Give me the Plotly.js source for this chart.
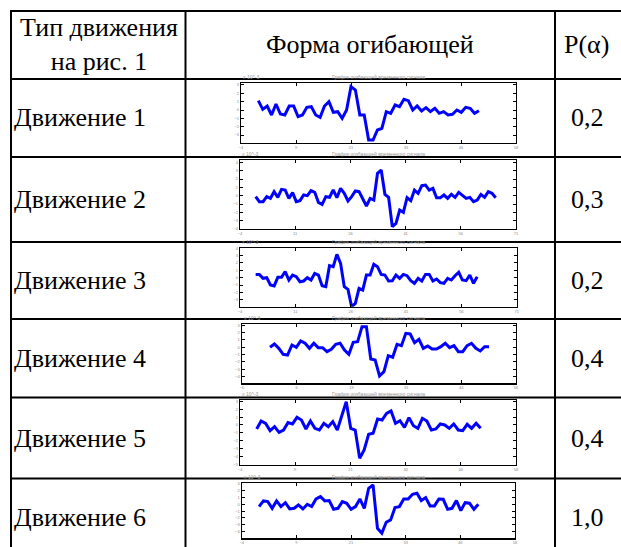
<!DOCTYPE html>
<html>
<head>
<meta charset="utf-8">
<script src="https://cdn.plot.ly/plotly-3.0.1.min.js"></script>
<style>
html,body{margin:0;padding:0;background:#fff;}
#chart{width:621px;height:547px;}
</style>
</head>
<body>
<div id="chart"></div>
<script>
// ---- data ----
const headerType = 'Тип движения<br>на рис. 1';
const headerShape = 'Форма огибающей';
const headerProb = 'P(α)';
const rowLabels = ['Движение 1', 'Движение 2', 'Движение 3', 'Движение 4', 'Движение 5', 'Движение 6'];
const probabilities = ['0,2', '0,3', '0,2', '0,4', '0,4', '1,0'];
const miniTitle = 'График огибающей временного сигнала';
const miniExp = 'x 10^-3';

const env1 = [1.12, 0.08, 0.48, -0.6, 0.72, -0.48, -0.6, 0.48, 0.48, -0.8, -0.6, 0.32, 0.4, -0.6, -0.88, 0.48, 1.0, -0.28, -0.2, -1.0, 0, 2.8, 2.4, -0.6, -0.6, -3.6, -3.6, -2.4, -2.2, -0.2, -0.4, 0.6, 0.4, 1.28, 1.12, 0, 0.48, -0.12, 0.28, -0.2, 0.2, -0.4, -0.2, -0.6, -0.52, 0, -0.28, 0.32, 0.2, -0.4, -0.08];
const env2 = [-0.12, -0.72, -0.72, -0.12, -0.32, 0.48, -0.2, 0.76, 0.68, -0.32, 0.36, -0.72, -0.6, 0.08, 0, 0.6, 0.4, -0.8, -1.04, -0.12, -0.2, 0.68, -0.24, 0.88, 0.28, -0.64, -0.12, 0.56, 0.48, -0.32, -1.24, -0.32, -0.52, 2.68, 3.08, 0.16, -0.2, -3.72, -3.32, -1.72, -2.0, -0.24, -0.6, 0.68, 0.28, 1.2, 1.28, 0.68, 0.88, -0.24, -0.24, 0.08, -0.32, 0.16, -0.2, 0.4, 0.08, -0.32, -0.2, -0.72, -0.52, 0.16, -0.2, 0.48, 0.28, -0.24];
const env3 = [0.45, 0.45, -0.09, 0, -1.0, -1.14, 0.05, 0.05, 0.82, -0.32, 0.36, 0.14, -0.55, -0.45, 0, -0.32, 0.59, 0.36, -1.09, -1.23, 1.64, 1.5, 3.18, 1.95, -1.23, -1.59, -3.95, -3.5, -1.45, -1.68, 0.36, 0.36, 1.82, 1.5, 0.45, 0.36, -0.45, -0.41, 0.36, -0.09, 0.45, 0.27, -0.41, -0.77, -0.09, -0.45, 0.45, 0.45, -0.45, -0.18, -0.68, -0.77, -0.09, -0.32, 0.27, 0.73, -0.32, -0.41, 0.36, -0.77, 0.14];
const env4 = [0, 0.45, -0.14, -0.95, -1.05, 0.32, 0, 0.86, 0.55, -0.14, 0.55, -0.05, -0.05, -0.59, -0.27, 0.41, 0.55, -0.36, -0.95, 0.68, 0.77, 2.82, 2.82, -1.59, -1.73, -3.91, -3.32, -1.14, -1.36, 0.41, 0.23, 1.91, 1.82, 0.64, 1.09, -0.14, 0.18, -0.23, -0.23, 0.09, 0.55, -0.05, 0.23, -0.59, -0.59, 0.23, 0.55, -0.14, -0.5, 0.09, 0.09];
const env5 = [-0.51, 0.51, 0.21, -0.72, -0.21, -0.94, -0.64, 0.3, 0.13, 0.98, 0.64, -0.51, 0.51, -0.43, -0.64, 0.21, -0.21, 0.43, -0.64, 1.19, 2.98, -0.43, -0.64, -4.26, -3.19, -1.19, -1.06, 0.77, 0.64, 1.49, 1.79, 0.21, 0.55, -0.3, 0.94, -0.09, -0.43, 0.85, 0.51, -0.64, -0.51, 0.13, 0, -0.43, 0.13, -0.64, -0.72, 0.09, -0.43, 0.21, -0.43];
const env6 = [-0.34, 0.49, 0.39, -0.59, 0.49, -0.34, 0.24, -0.68, -0.59, -0.1, -0.68, 0, -0.34, 0.78, 1.12, 0.49, 0.54, -0.73, -0.59, 0.39, 0.15, -0.73, -0.34, 0.78, -0.59, 2.34, 2.83, -3.51, -4.24, -2.63, -2.29, -0.49, -0.34, 0.78, 0.78, 1.46, 1.61, 0.54, 0.98, -0.24, -0.24, 0.78, 0.73, -0.73, -0.59, 0.54, -0.93, 0.24, 0.15, -0.73, 0];
const envelopes = [env1, env2, env3, env4, env5, env6];

// ---- layout geometry (pixels) ----
const W = 621, H = 547;
const px = x => x / W;
const py = y => 1 - y / H;

// mini plot boxes [left, right, top, bottom] in px, and axis ranges
const boxes = [
  [241, 516, 83.3, 142.7],
  [240, 516, 159.7, 229],
  [240, 516.7, 248.3, 306.7],
  [241.7, 516, 324.3, 383.3],
  [240, 516, 400, 465],
  [241.7, 515, 483.3, 538.3]
];
const xRanges = [[-3.93, 58.4], [-4.24, 70.5], [-4.24, 70.7], [-6.47, 56.16], [-3.72, 57.9], [-3.95, 58.36]];
const yRanges = [[-3.92, 3.2], [-4.0, 4.32], [-3.95, 4.0], [-4.91, 3.14], [-5.11, 3.19], [-4.98, 3.07]];

const rowLines = [11, 79, 157, 242, 319, 397.5, 478.5];
const colLines = [11, 185.5, 555];

const serif = '"Liberation Serif", "Times New Roman", serif';
const FS = 26;
const tinyFont = {size: 5, color: '#999', family: 'Arial'};

const traces = [];
const layout = {
  width: W, height: H,
  margin: {l: 0, r: 0, t: 0, b: 0},
  paper_bgcolor: '#fff', plot_bgcolor: '#fff',
  showlegend: false,
  shapes: [], annotations: []
};

envelopes.forEach((env, i) => {
  const n = i + 1;
  const xa = n === 1 ? 'xaxis' : 'xaxis' + n;
  const ya = n === 1 ? 'yaxis' : 'yaxis' + n;
  traces.push({
    x: env.map((_, k) => k), y: env,
    xaxis: 'x' + (n === 1 ? '' : n), yaxis: 'y' + (n === 1 ? '' : n),
    type: 'scatter', mode: 'lines',
    line: {color: '#0000ff', width: 3},
    hoverinfo: 'skip'
  });
  const b = boxes[i];
  const xr = xRanges[i], yr = yRanges[i];
  const common = {
    showline: true, linecolor: '#000', linewidth: 1.2, mirror: 'allticks',
    ticks: 'inside', ticklen: 3, tickwidth: 1, tickcolor: '#000',
    showgrid: false, zeroline: false, fixedrange: true,
    tickfont: {size: 4, color: '#888', family: 'Arial'}
  };
  layout[xa] = Object.assign({}, common, {
    domain: [px(b[0]), px(b[1])], range: xr,
    anchor: 'y' + (n === 1 ? '' : n),
    tickmode: 'linear', tick0: xr[0], dtick: (xr[1] - xr[0]) / 5,
    tickformat: '.0f'
  });
  layout[ya] = Object.assign({}, common, {
    domain: [py(b[3]), py(b[2])], range: yr,
    anchor: 'x' + (n === 1 ? '' : n),
    tickmode: 'linear', tick0: 0, dtick: 1
  });
  layout.annotations.push({
    xref: 'paper', yref: 'paper', x: px((b[0] + b[1]) / 2), y: py(b[2] - 1),
    text: miniTitle, showarrow: false, xanchor: 'center', yanchor: 'bottom',
    font: tinyFont
  });
  layout.annotations.push({
    xref: 'paper', yref: 'paper', x: px(b[0]), y: py(b[2] - 1),
    text: miniExp, showarrow: false, xanchor: 'left', yanchor: 'bottom',
    font: tinyFont
  });
});

// table lines
rowLines.forEach(y => layout.shapes.push({
  type: 'line', xref: 'paper', yref: 'paper',
  x0: px(11), x1: 1, y0: py(y), y1: py(y),
  line: {color: '#000', width: 2}
}));
colLines.forEach(x => layout.shapes.push({
  type: 'line', xref: 'paper', yref: 'paper',
  x0: px(x), x1: px(x), y0: py(10), y1: 0,
  line: {color: '#000', width: 2}
}));

// header texts
layout.annotations.push({xref: 'paper', yref: 'paper', x: px(99), y: py(45), text: headerType,
  showarrow: false, xanchor: 'center', yanchor: 'middle', align: 'center',
  font: {family: serif, size: FS, color: '#000'}});
layout.annotations.push({xref: 'paper', yref: 'paper', x: px(370), y: py(45), text: headerShape,
  showarrow: false, xanchor: 'center', yanchor: 'middle',
  font: {family: serif, size: FS, color: '#000'}});
layout.annotations.push({xref: 'paper', yref: 'paper', x: px(586), y: py(45), text: headerProb,
  showarrow: false, xanchor: 'center', yanchor: 'middle',
  font: {family: serif, size: FS, color: '#000'}});

// row texts
const rowCenters = [118, 199, 280.5, 358, 438, 517];
rowLabels.forEach((t, i) => {
  layout.annotations.push({xref: 'paper', yref: 'paper', x: px(12), y: py(rowCenters[i]), text: t,
    showarrow: false, xanchor: 'left', yanchor: 'middle',
    font: {family: serif, size: FS, color: '#000'}});
  layout.annotations.push({xref: 'paper', yref: 'paper', x: px(587), y: py(rowCenters[i]), text: probabilities[i],
    showarrow: false, xanchor: 'center', yanchor: 'middle',
    font: {family: serif, size: FS, color: '#000'}});
});

Plotly.newPlot('chart', traces, layout, {staticPlot: true, displayModeBar: false});
</script>
</body>
</html>
